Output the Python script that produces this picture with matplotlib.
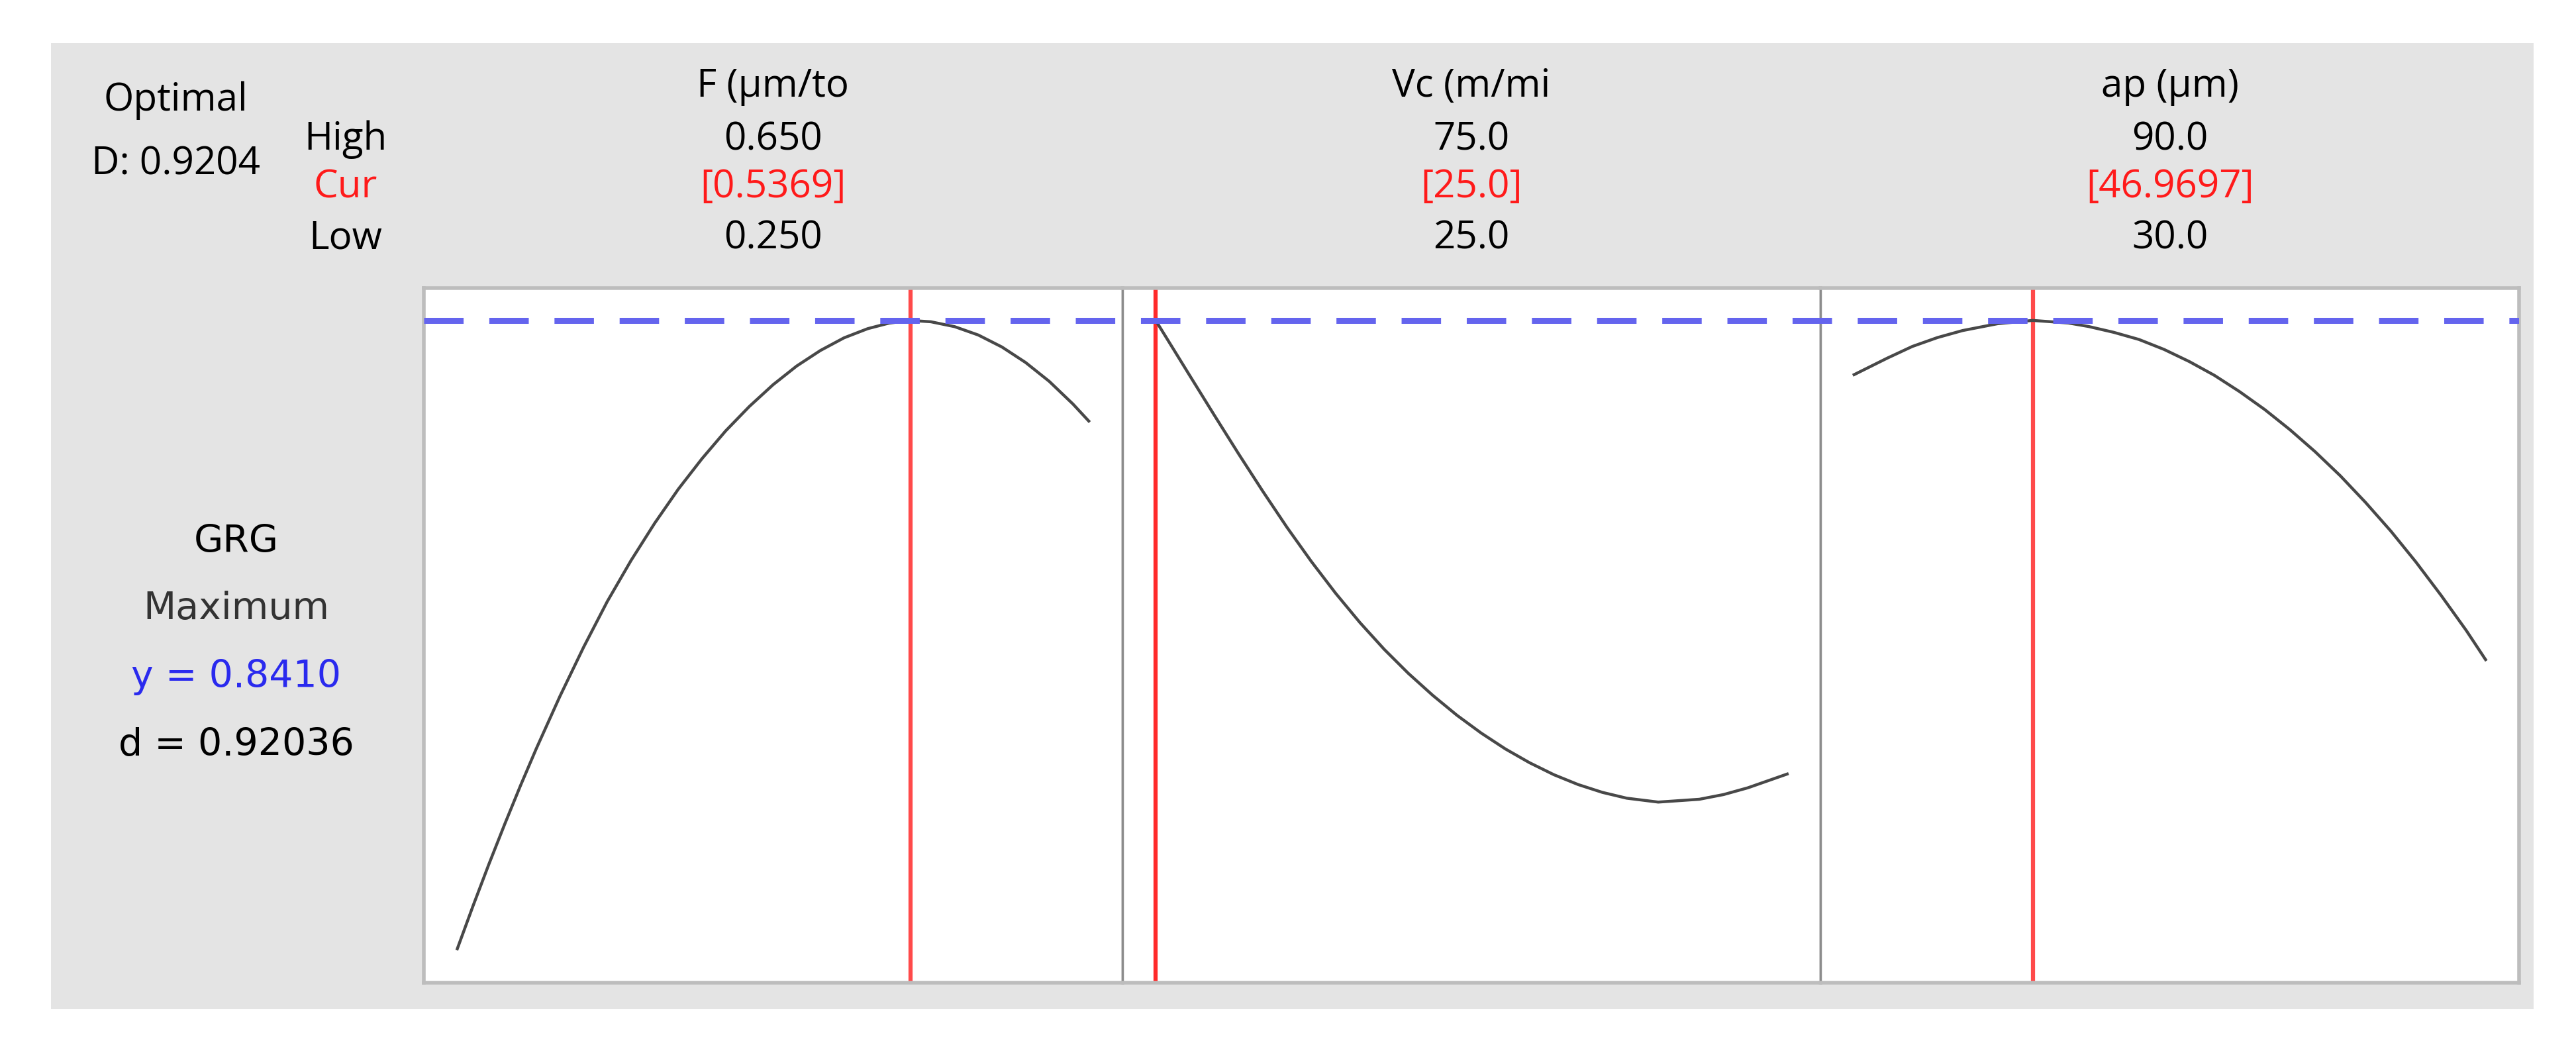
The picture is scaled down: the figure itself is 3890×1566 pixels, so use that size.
import matplotlib
matplotlib.use("Agg")
import matplotlib.pyplot as plt
from matplotlib.patches import Rectangle

# factor names and settings (optimizer output)
factor_names = ["F (µm/to", "Vc (m/mi", "ap (µm)"]
high_vals = [0.650, 75.0, 90.0]
low_vals = [0.250, 25.0, 30.0]
cur_vals = [0.5369, 25.0, 46.9697]
high_txt = ["0.650", "75.0", "90.0"]
cur_txt = ["[0.5369]", "[25.0]", "[46.9697]"]
low_txt = ["0.250", "25.0", "30.0"]

D_overall = "0.9204"
y_opt = 0.8410
d_txt = "0.92036"

# GRG response traces
F_x = [0.25, 0.26, 0.27, 0.28, 0.29, 0.30, 0.315, 0.33, 0.345, 0.36, 0.375, 0.39, 0.405, 0.42,
       0.435, 0.45, 0.465, 0.48, 0.495, 0.51, 0.5235, 0.5369, 0.55, 0.565, 0.58, 0.595, 0.61,
       0.625, 0.64, 0.65]
F_y = [0.3751, 0.407, 0.4378, 0.4674, 0.496, 0.5234, 0.5623, 0.5987, 0.6326, 0.6629, 0.6906,
       0.7159, 0.7385, 0.7591, 0.7772, 0.7933, 0.8072, 0.8187, 0.8281, 0.8349, 0.839, 0.841,
       0.840, 0.8364, 0.8302, 0.8213, 0.8098, 0.7958, 0.779, 0.7664]

Vc_x = [25.0, 26.38, 27.73, 29.65, 31.57, 33.49, 35.41, 37.33, 39.25, 41.17, 43.09, 45.01,
        46.93, 48.85, 50.77, 52.69, 54.6, 56.53, 58.45, 60.37, 62.29, 64.79, 68.05, 69.97,
        71.89, 75.0]
Vc_y = [0.841, 0.8201, 0.7996, 0.7706, 0.742, 0.7142, 0.6874, 0.6622, 0.6387, 0.617, 0.5972,
        0.5793, 0.5631, 0.5483, 0.5351, 0.5233, 0.5131, 0.5042, 0.4969, 0.4911, 0.4868, 0.4839,
        0.486, 0.4895, 0.4945, 0.5047]

ap_x = [30.0, 33.14, 35.53, 37.92, 40.31, 43.66, 46.9697, 50.36, 52.28, 54.66, 57.06, 59.45,
        61.85, 64.23, 66.63, 69.02, 71.41, 73.8, 76.2, 78.59, 80.99, 83.37, 85.77, 88.16, 90.0]
ap_y = [0.8008, 0.813, 0.8217, 0.8283, 0.8335, 0.8386, 0.841, 0.8391, 0.8365, 0.8322, 0.8269,
        0.8195, 0.8105, 0.8003, 0.7882, 0.7749, 0.76, 0.7437, 0.7258, 0.7061, 0.6849, 0.662,
        0.6372, 0.6112, 0.5895]

curves = [(F_x, F_y), (Vc_x, Vc_y), (ap_x, ap_y)]

W, H = 3890, 1566
fig = plt.figure(figsize=(W / 100, H / 100), dpi=100)
fig.patch.set_facecolor("white")

def fx(x):
    return x / W

def fy(y):
    return 1 - y / H

# grey panel behind everything
fig.patches.append(Rectangle((fx(77), fy(1524)), fx(3826) - fx(77), fy(65) - fy(1524),
                             transform=fig.transFigure, facecolor="#e4e4e4", edgecolor="none", zorder=-10))

ylim = (0.35, 0.865)
left, right, top, bottom = 640, 3804, 435, 1484
pw = (right - left) / 3
hdr_font = ["Open Sans", "DejaVu Sans"]

for i, (xs, ys) in enumerate(curves):
    x0 = left + i * pw
    ax = fig.add_axes([fx(x0), fy(bottom), pw / W, (bottom - top) / H], zorder=1)
    ax.set_facecolor("white")
    pad = 0.053 * (high_vals[i] - low_vals[i])
    ax.set_xlim(low_vals[i] - pad, high_vals[i] + pad)
    ax.set_ylim(*ylim)
    ax.plot(xs, ys, color="#484848", lw=3.2, zorder=3, solid_joinstyle="round")
    ax.axvline(cur_vals[i], color="#ff2a2a" if i == 1 else "#ff4a4a", lw=4.5, zorder=2)
    ax.set_xticks([])
    ax.set_yticks([])
    for s in ["top", "bottom"]:
        ax.spines[s].set_color("#bdbdbd")
        ax.spines[s].set_linewidth(4)
    ax.spines["left"].set_color("#bdbdbd" if i == 0 else "#8c8c8c")
    ax.spines["left"].set_linewidth(4 if i == 0 else 2.5)
    ax.spines["right"].set_color("#bdbdbd" if i == 2 else "#8c8c8c")
    ax.spines["right"].set_linewidth(4 if i == 2 else 2.5)

    cx = fx(x0 + pw / 2)
    fig.text(cx, fy(131), factor_names[i], ha="center", va="center", fontsize=42, family=hdr_font)
    fig.text(cx, fy(211), high_txt[i], ha="center", va="center", fontsize=42, family=hdr_font)
    fig.text(cx, fy(283), cur_txt[i], ha="center", va="center", fontsize=42, family=hdr_font, color="#ff1a1a")
    fig.text(cx, fy(360), low_txt[i], ha="center", va="center", fontsize=42, family=hdr_font)

# dashed optimum line across all panels
ov = fig.add_axes([fx(left), fy(bottom), (right - left) / W, (bottom - top) / H], zorder=2)
ov.patch.set_alpha(0)
ov.set_xlim(0, 1)
ov.set_ylim(*ylim)
ov.axhline(y_opt, color="#6464ee", lw=6.5, dashes=(6.6, 4.3), zorder=5)
ov.axis("off")

# header on the left
fig.text(fx(265), fy(152), "Optimal", ha="center", va="center", fontsize=42, family=hdr_font)
fig.text(fx(265), fy(248), "D: " + D_overall, ha="center", va="center", fontsize=42, family=hdr_font)
fig.text(fx(522), fy(211), "High", ha="center", va="center", fontsize=42, family=hdr_font)
fig.text(fx(522), fy(283), "Cur", ha="center", va="center", fontsize=42, family=hdr_font, color="#ff1a1a")
fig.text(fx(522), fy(360), "Low", ha="center", va="center", fontsize=42, family=hdr_font)

# response labels
fig.text(fx(357), fy(819), "GRG", ha="center", va="center", fontsize=41)
fig.text(fx(357), fy(920), "Maximum", ha="center", va="center", fontsize=41, color="#333333")
fig.text(fx(357), fy(1023), "y = %.4f" % y_opt, ha="center", va="center", fontsize=41, color="#2a2aee")
fig.text(fx(357), fy(1125), "d = " + d_txt, ha="center", va="center", fontsize=41)

fig.savefig("out.png", dpi=100)
